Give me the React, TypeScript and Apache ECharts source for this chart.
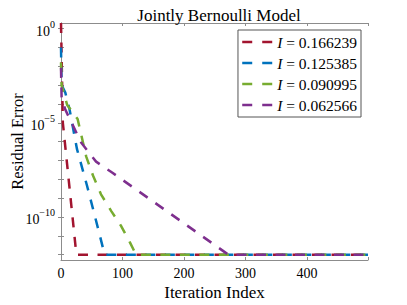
import React, { useEffect, useRef } from "react";
import * as echarts from "echarts";

// Information values shown in the legend
const infoValues = ["0.166239", "0.125385", "0.090995", "0.062566"];
const colors = ["#A2142F", "#0072BD", "#77AC30", "#7E2F8E"];

// [iteration, residual error] vertices
const redData: [number, number][] = [
  [0, 2.0], [3, 1.0e-5], [25, 1.0e-12], [499, 1.0e-12],
];
const blueData: [number, number][] = [
  [0, 0.1], [1, 1.0e-3], [7, 4.0e-4], [14, 5.0e-5], [26, 4.0e-7],
  [42, 5.0e-9], [57, 6.3e-11], [71, 1.0e-12], [499, 1.0e-12],
];
const greenData: [number, number][] = [
  [0, 1.6e-2], [1, 1.0e-3], [10, 8.9e-5], [27, 1.6e-5], [41, 1.6e-7],
  [52, 1.6e-8], [65, 1.6e-9], [82, 2.0e-10], [98, 3.2e-11], [112, 4.5e-12],
  [122, 1.0e-12], [499, 1.0e-12],
];
const purpleData: [number, number][] = [
  [0, 8.3e-3], [1, 2.0e-4], [7, 5.0e-5], [33, 8.7e-7], [57, 8.7e-8],
  [83, 2.3e-8], [272, 1.0e-12], [499, 1.0e-12],
];
const seriesData = [redData, blueData, greenData, purpleData];

const xTicks = [0, 100, 200, 300, 400];
const yTickValues = [1e-12, 1e-11, 1e-10, 1e-9, 1e-8, 1e-7, 1e-6, 1e-5, 1e-4, 1e-3, 1e-2, 1e-1, 1];
const yLabelValues = [1e-10, 1e-5, 1];

const FONT = "Liberation Serif";
const AXIS_COLOR = "#8c8c8c";

export default function App() {
  const ref = useRef<HTMLDivElement>(null);
  useEffect(() => {
    if (!ref.current) return;
    const chart = echarts.init(ref.current, null, { renderer: "svg" });
    const names = infoValues.map((v) => `I = ${v}`);
    const expLabel = (v: number) => {
      const e = Math.round(Math.log10(v));
      const s = e < 0 ? "\u2212" + Math.abs(e) : String(e);
      return `{b|10}{s|${s}}`;
    };
    const axisLineStyle = { lineStyle: { color: AXIS_COLOR, width: 1 } };
    chart.setOption({
      animation: false,
      backgroundColor: "#fff",
      title: {
        text: "Jointly Bernoulli Model",
        left: 214,
        textAlign: "center",
        top: 2,
        textStyle: { fontFamily: FONT, fontSize: 17, fontWeight: "normal", color: "#000" },
      },
      grid: { left: 61, right: 39, top: 23, bottom: 45, containLabel: false, outerBoundsMode: "none" },
      legend: {
        data: names,
        right: 46,
        top: 30,
        orient: "vertical",
        itemWidth: 30,
        itemHeight: 14,
        itemGap: 5,
        padding: [4, 4, 4, 3],
        borderColor: "#555",
        borderWidth: 1,
        backgroundColor: "#fff",
        itemStyle: { opacity: 0 },
        lineStyle: { width: 2.5, type: [10, 10] },
        formatter: (name: string) => `{i|I}{t|${name.slice(1)}}`,
        textStyle: {
          fontFamily: FONT,
          fontSize: 15.5,
          color: "#000",
          rich: {
            i: { fontFamily: FONT, fontSize: 15.5, fontStyle: "italic", color: "#000" },
            t: { fontFamily: FONT, fontSize: 15.5, color: "#000" },
          },
        },
      },
      xAxis: [
        {
          type: "value",
          min: 0,
          max: 499,
          interval: 100,
          name: "Iteration Index",
          nameLocation: "middle",
          nameGap: 24,
          nameMoveOverlap: false,
          nameTextStyle: { fontFamily: FONT, fontSize: 17, color: "#000" },
          axisLine: axisLineStyle,
          axisTick: { inside: true, length: 3, lineStyle: { color: AXIS_COLOR } },
          axisLabel: {
            margin: 6,
            fontFamily: FONT,
            fontSize: 14,
            color: "#000",
            customValues: xTicks,
          },
          splitLine: { show: false },
        },
        {
          type: "value",
          position: "top",
          min: 0,
          max: 499,
          interval: 100,
          axisLine: axisLineStyle,
          axisTick: { inside: true, length: 3, lineStyle: { color: AXIS_COLOR } },
          axisLabel: { show: false },
          splitLine: { show: false },
        },
      ],
      yAxis: [
        {
          type: "log",
          logBase: 10,
          min: 5.2e-13,
          max: 2.0,
          name: "Residual Error",
          nameLocation: "middle",
          nameGap: 35,
          nameMoveOverlap: false,
          nameRotate: 90,
          nameTextStyle: { fontFamily: FONT, fontSize: 16.5, color: "#000" },
          axisLine: { show: true, ...axisLineStyle },
          axisTick: { show: true, inside: true, length: 3, lineStyle: { color: AXIS_COLOR }, customValues: yTickValues },
          axisLabel: {
            margin: 6,
            align: "right",
            customValues: yLabelValues,
            formatter: (v: number) => expLabel(v),
            rich: {
              b: { fontFamily: FONT, fontSize: 14, color: "#000", lineHeight: 18, padding: [6, 0, 0, 0] },
              s: { fontFamily: FONT, fontSize: 10, color: "#000", verticalAlign: "top", lineHeight: 10 },
            },
          },
          splitLine: { show: false },
        },
        {
          type: "log",
          logBase: 10,
          position: "right",
          min: 5.2e-13,
          max: 2.0,
          axisLine: { show: true, ...axisLineStyle },
          axisTick: { show: true, inside: true, length: 3, lineStyle: { color: AXIS_COLOR }, customValues: yTickValues },
          axisLabel: { show: false },
          splitLine: { show: false },
        },
      ],
      series: seriesData.map((d, i) => ({
        name: names[i],
        type: "line",
        data: d,
        xAxisIndex: 0,
        yAxisIndex: 0,
        symbol: "none",
        color: colors[i],
        lineStyle: { color: colors[i], width: 2.5, type: [10, 9.5] },
        z: 2 + i,
      })),
    });
    return () => chart.dispose();
  }, []);
  return <div ref={ref} style={{ width: 407, height: 305, position: "absolute", left: 0, top: 0 }} />;
}
